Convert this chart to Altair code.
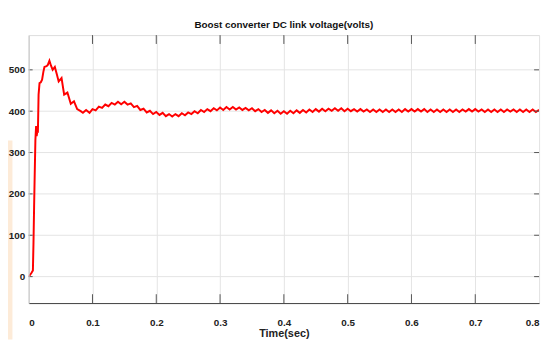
import altair as alt
import pandas as pd

# ---- data ----
t_start = [0.0, 0.004, 0.0066, 0.0075, 0.0085, 0.0093, 0.0105, 0.0116, 0.0125, 0.0135,
           0.0144, 0.0155, 0.017, 0.019, 0.021, 0.023, 0.0247, 0.028, 0.030, 0.0325,
           0.035, 0.0376, 0.041, 0.044, 0.047, 0.0515, 0.0556, 0.0607, 0.066, 0.071,
           0.076, 0.0815, 0.085, 0.090, 0.0954]
v_start = [0, 8, 15, 80, 170, 236, 330, 364, 340, 352,
           348, 440, 468, 470, 476, 495, 507, 509, 512, 522,
           510, 500, 507, 490, 472, 480, 440, 445, 418, 424,
           405, 400, 396, 403, 396]

# from t = 0.100 s to 0.800 s, every 0.005 s
v_rest = [405, 402, 411, 408, 416, 412, 420, 416, 423, 417,
          423, 416, 419, 410, 413, 403, 406, 397, 401, 393,
          398, 391, 396, 388, 393, 387, 393, 388, 395, 390,
          397, 393, 400, 395, 403, 398, 405, 400, 407, 402,
          409, 403, 410, 404, 410, 404, 409, 403, 408, 402,
          407, 400, 405, 398, 403, 396, 402, 395, 401, 394,
          400, 394, 401, 395, 402, 396, 403, 397, 404, 398,
          405, 399, 406, 400, 406, 401, 407, 401, 407, 400,
          406, 400, 405, 399, 405, 399, 404, 398, 404, 398,
          404, 398, 404, 398, 404, 398, 404, 398, 405, 399,
          405, 399, 405, 399, 405, 398, 404, 398, 404, 398,
          404, 398, 404, 398, 404, 398, 404, 399, 405, 399,
          405, 399, 404, 398, 404, 398, 404, 398, 404, 398,
          404, 399, 404, 398, 404, 398, 404, 398, 404, 398,
          403]
t_rest = [round(0.1 + 0.005 * i, 3) for i in range(len(v_rest))]

x_ticks = [0, 0.1, 0.2, 0.3, 0.4, 0.5, 0.6, 0.7, 0.8]
y_ticks = [0, 100, 200, 300, 400, 500]
inner_x_ticks = [0.1, 0.2, 0.3, 0.4, 0.5, 0.6, 0.7]

title = "Boost converter DC link voltage(volts)"
x_title = "Time(sec)"

df = pd.DataFrame({"t": t_start + t_rest, "v": v_start + v_rest})
dfx = pd.DataFrame({"t": inner_x_ticks})
dfy = pd.DataFrame({"v": y_ticks})

W, H = 518, 272
FONT = "Liberation Sans Narrow, Liberation Sans, sans-serif"
GRID = "#e4e4e4"

xscale = alt.Scale(domain=[0, 0.8], nice=False, zero=False)
yscale = alt.Scale(domain=[-64, 584], nice=False, zero=False)

# horizontal grid lines drawn as a layer beneath the curve
ygrid = alt.Chart(dfy).mark_rule(color=GRID, strokeWidth=1).encode(
    y=alt.Y("v:Q", scale=yscale,
            axis=alt.Axis(values=y_ticks, title=None, grid=False, ticks=False,
                          domainColor="#c8c8c8", labelPadding=4, labelFontSize=10,
                          labelFont=FONT, labelFontWeight="bold", labelColor="#222",
                          zindex=1)),
    x=alt.value(0), x2=alt.value(W))

line = alt.Chart(df).mark_line(color="#ff0000", strokeWidth=2, clip=True).encode(
    x=alt.X("t:Q", scale=xscale,
            axis=alt.Axis(values=x_ticks, format="~g", title=x_title, grid=True,
                          gridColor=GRID, ticks=False, domainColor="#404040",
                          labelPadding=15, labelFontSize=10,
                          titleFontSize=11, labelFont=FONT, titleFont=FONT,
                          labelFontWeight="bold", titleFontWeight="bold",
                          titleBaseline="alphabetic", titleY=34,
                          labelColor="#222", titleColor="#222")),
    y=alt.Y("v:Q", scale=yscale),
)

top_ticks = alt.Chart(dfx).mark_rule(color="#555", strokeWidth=1).encode(
    x=alt.X("t:Q", scale=xscale), y=alt.value(0), y2=alt.value(9))
bot_ticks = alt.Chart(dfx).mark_rule(color="#555", strokeWidth=1).encode(
    x=alt.X("t:Q", scale=xscale), y=alt.value(H - 9), y2=alt.value(H))
right_ticks = alt.Chart(dfy).mark_rule(color="#555", strokeWidth=1).encode(
    y=alt.Y("v:Q", scale=yscale), x=alt.value(W - 5), x2=alt.value(W))
left_ticks = alt.Chart(dfy).mark_rule(color="#555", strokeWidth=1).encode(
    y=alt.Y("v:Q", scale=yscale), x=alt.value(0), x2=alt.value(4))

strip = alt.Chart(pd.DataFrame({"a": [0]})).mark_rect(color="#fdebd8", clip=False).encode(
    x=alt.value(-21), x2=alt.value(-16.5), y=alt.value(107), y2=alt.value(309))

chart = alt.layer(strip, ygrid, line, top_ticks, bot_ticks, right_ticks, left_ticks).properties(
    width=W, height=H,
    title=alt.TitleParams(title, fontSize=10, font=FONT, fontWeight="bold",
                          color="#111", anchor="middle", offset=5),
    autosize=alt.AutoSizeParams(type="none"),
    padding={"left": 21, "top": 25, "right": 3, "bottom": 37},
).configure_view(stroke="#404040", strokeWidth=1).configure(background="white")

chart.save("out.html", embed_options={"renderer": "svg", "actions": False})
